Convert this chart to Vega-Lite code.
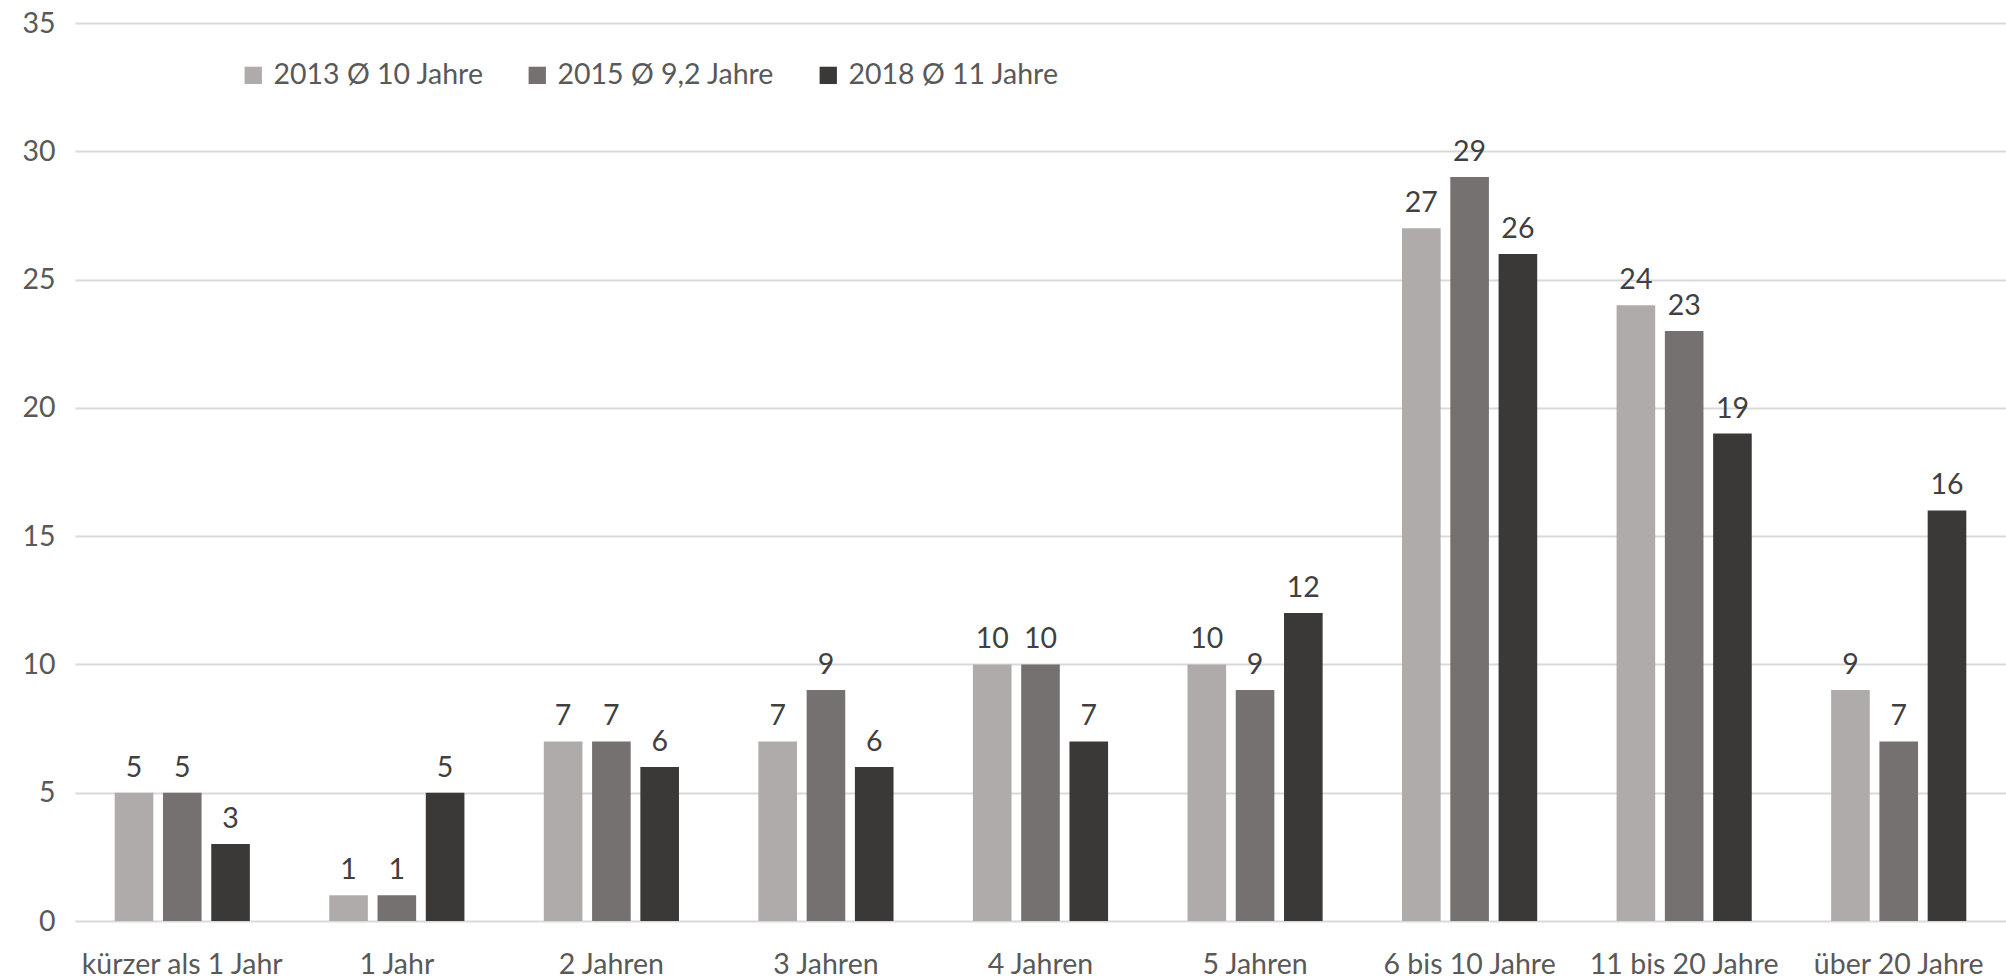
{
  "$schema": "https://vega.github.io/schema/vega-lite/v6.json",
  "width": 1931,
  "height": 898,
  "autosize": {"type": "none"},
  "padding": {"left": 75, "top": 23, "right": 0, "bottom": 57},
  "background": "white",
  "config": {
    "view": {"stroke": null},
    "font": "Lato",
    "axis": {"labelFont": "Lato", "labelColor": "#595959", "labelFontSize": 28.5},
    "legend": {"labelFont": "Lato", "labelColor": "#595959", "labelFontSize": 28.5}
  },
  "data": {
    "values": [
      {"k": "kürzer als 1 Jahr", "s": "2013 Ø 10 Jahre", "v": 5},
      {"k": "kürzer als 1 Jahr", "s": "2015 Ø 9,2 Jahre", "v": 5},
      {"k": "kürzer als 1 Jahr", "s": "2018 Ø 11 Jahre", "v": 3},
      {"k": "1 Jahr", "s": "2013 Ø 10 Jahre", "v": 1},
      {"k": "1 Jahr", "s": "2015 Ø 9,2 Jahre", "v": 1},
      {"k": "1 Jahr", "s": "2018 Ø 11 Jahre", "v": 5},
      {"k": "2 Jahren", "s": "2013 Ø 10 Jahre", "v": 7},
      {"k": "2 Jahren", "s": "2015 Ø 9,2 Jahre", "v": 7},
      {"k": "2 Jahren", "s": "2018 Ø 11 Jahre", "v": 6},
      {"k": "3 Jahren", "s": "2013 Ø 10 Jahre", "v": 7},
      {"k": "3 Jahren", "s": "2015 Ø 9,2 Jahre", "v": 9},
      {"k": "3 Jahren", "s": "2018 Ø 11 Jahre", "v": 6},
      {"k": "4 Jahren", "s": "2013 Ø 10 Jahre", "v": 10},
      {"k": "4 Jahren", "s": "2015 Ø 9,2 Jahre", "v": 10},
      {"k": "4 Jahren", "s": "2018 Ø 11 Jahre", "v": 7},
      {"k": "5 Jahren", "s": "2013 Ø 10 Jahre", "v": 10},
      {"k": "5 Jahren", "s": "2015 Ø 9,2 Jahre", "v": 9},
      {"k": "5 Jahren", "s": "2018 Ø 11 Jahre", "v": 12},
      {"k": "6 bis 10 Jahre", "s": "2013 Ø 10 Jahre", "v": 27},
      {"k": "6 bis 10 Jahre", "s": "2015 Ø 9,2 Jahre", "v": 29},
      {"k": "6 bis 10 Jahre", "s": "2018 Ø 11 Jahre", "v": 26},
      {"k": "11 bis 20 Jahre", "s": "2013 Ø 10 Jahre", "v": 24},
      {"k": "11 bis 20 Jahre", "s": "2015 Ø 9,2 Jahre", "v": 23},
      {"k": "11 bis 20 Jahre", "s": "2018 Ø 11 Jahre", "v": 19},
      {"k": "über 20 Jahre", "s": "2013 Ø 10 Jahre", "v": 9},
      {"k": "über 20 Jahre", "s": "2015 Ø 9,2 Jahre", "v": 7},
      {"k": "über 20 Jahre", "s": "2018 Ø 11 Jahre", "v": 16}
    ]
  },
  "encoding": {
    "x": {
      "field": "k", "type": "nominal", "sort": null,
      "scale": {"paddingInner": 0.37, "paddingOuter": 0.185},
      "axis": {"title": null, "labelAngle": 0, "ticks": false, "domain": false, "labelPadding": 29, "labelLimit": 400}
    },
    "xOffset": {"field": "s", "type": "nominal", "scale": {"paddingInner": 0.2}},
    "y": {
      "field": "v", "type": "quantitative",
      "scale": {"domain": [0, 35], "nice": false},
      "axis": {"title": null, "values": [0, 5, 10, 15, 20, 25, 30, 35], "grid": true, "gridColor": "#D9D9D9", "gridWidth": 2, "ticks": false, "domain": false, "labelPadding": 20}
    }
  },
  "layer": [
    {
      "mark": {"type": "bar"},
      "encoding": {
        "color": {
          "field": "s", "type": "nominal",
          "scale": {"range": ["#AFABAB", "#767171", "#3B3838"]},
          "legend": {"title": null, "orient": "none", "legendX": 164, "legendY": 38, "direction": "horizontal", "symbolType": "square", "symbolSize": 300, "symbolStrokeWidth": 0, "symbolOpacity": 1, "columnPadding": 39, "labelOffset": 6, "labelLimit": 400}
        }
      }
    },
    {
      "mark": {"type": "text", "baseline": "bottom", "dy": -10, "fontSize": 28.5, "color": "#404040"},
      "encoding": {"text": {"field": "v", "type": "quantitative"}}
    }
  ]
}
